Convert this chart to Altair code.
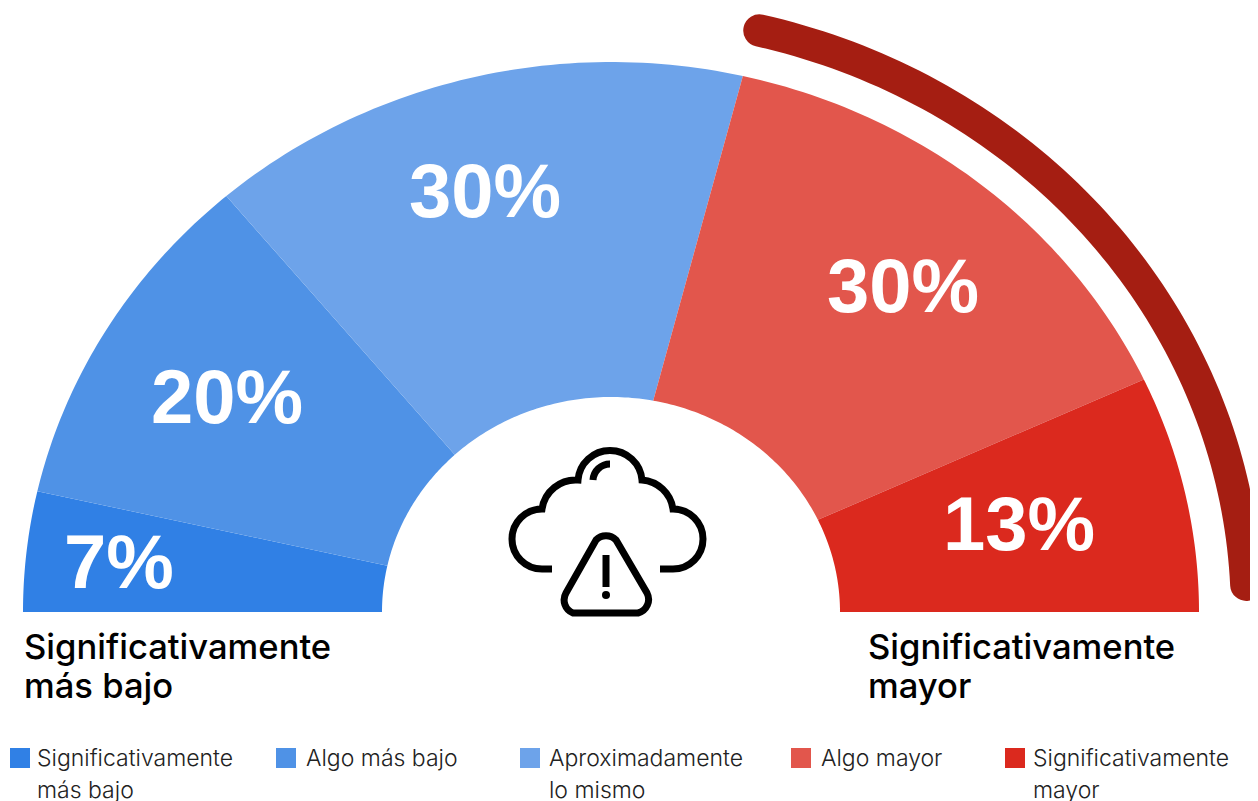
import math
import altair as alt

# ---- data ----
categories = ["Significativamente más bajo", "Algo más bajo", "Aproximadamente lo mismo", "Algo mayor", "Significativamente mayor"]
values = [7, 20, 30, 30, 13]
colors = ["#3080E5", "#4F92E6", "#6DA3EA", "#E2564C", "#DB291E"]
legend_lines = ["Significativamente\nmás bajo", "Algo más bajo", "Aproximadamente\nlo mismo", "Algo mayor", "Significativamente\nmayor"]
end_titles = ["Significativamente\nmás bajo", "Significativamente\nmayor"]

# ---- layout (page pixels, 8 px page margin removed below) ----
M = 8
CX, CY = 611, 612
OUT_A, OUT_B = 588, 550
IN_A, IN_B = 229, 215
# small drift of the drawn separators against the cumulated values, outer and inner rim
outer_drift = [0, 0.05, 0.3, 0.2, -0.9, 0]
inner_drift = [0, -0.1, -0.9, -1.1, -1.1, 0]
label_xy = [(119, 565), (227, 400), (485, 194), (903, 289), (1019, 527)]
title_xy = [(24, 659), (868, 659)]
legend_sq_x = [10, 276, 520, 791, 1005]
legend_tx_x = [37, 306, 549, 821, 1033]
ACC_A, ACC_B = 636, 598
ACC_FROM, ACC_TO = 57.5, 98.55  # position on the gauge scale, as percent of the half turn


def pt(a, b, pct):
    t = math.pi * pct / 100
    return [CX - M - a * math.cos(t), CY - M - b * math.sin(t)]


features = []
start = 0
for idx, (cat, val) in enumerate(zip(categories, values)):
    stop = start + val
    o0, o1 = start + outer_drift[idx], stop + outer_drift[idx + 1]
    i0, i1 = start + inner_drift[idx], stop + inner_drift[idx + 1]
    outer = [pt(OUT_A, OUT_B, o0 + (o1 - o0) * i / 60) for i in range(61)]
    inner = [pt(IN_A, IN_B, i1 - (i1 - i0) * i / 60) for i in range(61)]
    ring = outer + inner
    ring.append(ring[0])
    features.append({"type": "Feature", "properties": {"category": cat, "value": val},
                     "geometry": {"type": "Polygon", "coordinates": [ring]}})
    start = stop

wedges = (
    alt.Chart(alt.InlineData(values={"type": "FeatureCollection", "features": features},
                             format=alt.DataFormat(type="json", property="features")))
    .mark_geoshape(stroke=None)
    .encode(color=alt.Color("properties.category:N",
                            scale=alt.Scale(domain=categories, range=colors), legend=None))
    .project(type="identity", scale=1, translate=[0, 0])
)

acc_rows = []
for i in range(81):
    p = ACC_FROM + (ACC_TO - ACC_FROM) * i / 80
    x, y = pt(ACC_A, ACC_B, p)
    acc_rows.append({"o": i, "x": x, "y": y})
W, H = 1242, 793
page_x = alt.Scale(domain=[0, W], range=[0, W])
page_y = alt.Scale(domain=[H, 0], range=[H, 0])
accent = alt.Chart(alt.Data(values=acc_rows)).mark_line(
    color="#A51E12", strokeWidth=32.4, strokeCap="round", strokeJoin="round", clip=False
).encode(
    x=alt.X("x:Q", scale=page_x, axis=None),
    y=alt.Y("y:Q", scale=page_y, axis=None),
    order="o:Q",
)

layers = [wedges, accent]

for val, (x, y) in zip(values, label_xy):
    layers.append(
        alt.Chart(alt.Data(values=[{"t": f"{val}%"}])).mark_text(
            font="Liberation Sans", fontSize=76, fontWeight=700, color="white", align="center", baseline="middle"
        ).encode(text="t:N", x=alt.value(x - M), y=alt.value(y - M))
    )

for txt, (x, y) in zip(end_titles, title_xy):
    layers.append(
        alt.Chart(alt.Data(values=[{"t": txt}])).mark_text(
            font="Inter", fontSize=34.6, fontWeight=500, color="#000000", align="left", baseline="alphabetic",
            lineBreak="\n", lineHeight=39
        ).encode(text="t:N", x=alt.value(x - M), y=alt.value(y - M))
    )

for cat, col, txt, sx, tx in zip(categories, colors, legend_lines, legend_sq_x, legend_tx_x):
    layers.append(
        alt.Chart(alt.Data(values=[{"c": cat}])).mark_rect(color=col).encode(
            x=alt.value(sx - M), x2=alt.value(sx - M + 20), y=alt.value(748 - M), y2=alt.value(768 - M)
        )
    )
    layers.append(
        alt.Chart(alt.Data(values=[{"t": txt}])).mark_text(
            font="Inter", fontSize=23, fontWeight=300, color="#222222", align="left", baseline="alphabetic",
            lineBreak="\n", lineHeight=32
        ).encode(text="t:N", x=alt.value(tx - M), y=alt.value(766 - M))
    )

ICON = (
    "M-54 39H-64A30 30 0 0 1-64 -21A34 34 0 0 1-28 -50A32.1 32.1 0 0 1 36 -50A34 34 0 0 1 67 -21"
    "A30 30 0 0 1 67 39H54"
    "M-13 -50A17 17 0 0 1 4 -66"
    "M-10 10A14 14 0 0 1 10 10L41 63A14 14 0 0 1 32 83H-33A14 14 0 0 1-40 63Z"
    "M0 25V57"
)
layers.append(
    alt.Chart(alt.Data(values=[{"i": 1}])).mark_point(
        shape=ICON, size=4, filled=False, stroke="#000000", strokeWidth=7, opacity=1
    ).encode(x=alt.value(606 - M), y=alt.value(530 - M))
)
layers.append(
    alt.Chart(alt.Data(values=[{"i": 1}])).mark_circle(size=64, color="#000000", opacity=1).encode(
        x=alt.value(606 - M), y=alt.value(595 - M)
    )
)

chart = (
    alt.layer(*layers)
    .properties(width=W, height=H, padding=0, autosize=alt.AutoSizeParams(type="none"))
    .configure_view(stroke=None)
)

chart.save("out.html", embed_options={"renderer": "svg", "actions": False})
